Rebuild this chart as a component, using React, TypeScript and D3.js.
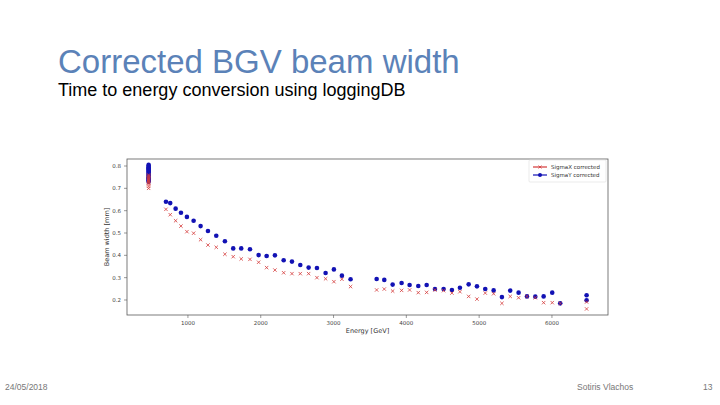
import React from "react";
import * as d3 from "d3";

// Injection plateau (450 GeV) measurements
const injEnergy = 460;
const injSigmaX = [0.76, 0.755, 0.75, 0.745, 0.74, 0.735, 0.73, 0.725, 0.72, 0.71, 0.7];
const injSigmaY = [0.805, 0.8, 0.795, 0.79, 0.785, 0.78, 0.775, 0.77, 0.765, 0.76, 0.755, 0.75, 0.745, 0.74, 0.735, 0.73];

// Ramp measurements
const energy = [
  698, 757, 831, 904, 986, 1078, 1174, 1275, 1389, 1508, 1622, 1732, 1852, 1971, 2081,
  2195, 2315, 2429, 2543, 2658, 2772, 2891, 3005, 3115, 3234, 3592, 3697, 3812, 3935,
  4045, 4164, 4279, 4393, 4512, 4626, 4736, 4856, 4970, 5084, 5199, 5313, 5427, 5542,
  5657, 5771, 5886, 6004, 6114, 6476, 6476,
];
const sigmaX = [
  0.606, 0.582, 0.555, 0.531, 0.506, 0.499, 0.47, 0.446, 0.436, 0.405, 0.394, 0.384, 0.382,
  0.369, 0.345, 0.334, 0.322, 0.318, 0.318, 0.318, 0.3, 0.295, 0.282, 0.293, 0.26, 0.245,
  0.249, 0.24, 0.243, 0.245, 0.233, 0.234, 0.245, 0.242, 0.231, 0.237, 0.216, 0.204, 0.231,
  0.228, 0.185, 0.216, 0.21, 0.216, 0.21, 0.188, 0.188, 0.185, 0.191, 0.16,
];
const sigmaY = [
  0.64, 0.634, 0.609, 0.591, 0.572, 0.555, 0.531, 0.509, 0.488, 0.463, 0.431, 0.431, 0.427,
  0.401, 0.397, 0.4, 0.378, 0.372, 0.357, 0.345, 0.343, 0.321, 0.337, 0.309, 0.293, 0.294,
  0.29, 0.269, 0.276, 0.267, 0.263, 0.267, 0.249, 0.249, 0.245, 0.255, 0.27, 0.261, 0.249,
  0.243, 0.213, 0.242, 0.233, 0.216, 0.215, 0.216, 0.233, 0.185, 0.221, 0.199,
];

const xTicks = [1000, 2000, 3000, 4000, 5000, 6000];
const yTicks = [0.2, 0.3, 0.4, 0.5, 0.6, 0.7, 0.8];

const seriesNames = ["SigmaX corrected", "SigmaY corrected"];

const RED = "#d43a3a";
const BLUE = "#1212b4";

const plot = { left: 127, right: 608, top: 159, bottom: 315 };

const App: React.FC = () => {
  const x = d3.scaleLinear().domain([163, 6770]).range([plot.left, plot.right]);
  const y = d3.scaleLinear().domain([0.1328, 0.8314]).range([plot.bottom, plot.top]);

  const pointsX = [
    ...injSigmaX.map((v) => [injEnergy, v]),
    ...energy.map((e, i) => [e, sigmaX[i]]),
  ];
  const pointsY = [
    ...injSigmaY.map((v) => [injEnergy, v]),
    ...energy.map((e, i) => [e, sigmaY[i]]),
  ];

  const cross = (cx: number, cy: number, s: number) =>
    `M${cx - s},${cy - s}L${cx + s},${cy + s}M${cx - s},${cy + s}L${cx + s},${cy - s}`;

  const tickFont = { fontFamily: "DejaVu Sans, sans-serif", fontSize: 5.5, fill: "#444" };

  return (
    <svg
      width={720}
      height={405}
      style={{ position: "absolute", left: 0, top: 0, background: "#fff" }}
    >
      {/* slide heading */}
      <text x={58} y={73} fontFamily="Liberation Sans, Arial, sans-serif" fontSize={33} fill="#5b82b8">
        Corrected BGV beam width
      </text>
      <text x={58} y={96} fontFamily="Liberation Sans, Arial, sans-serif" fontSize={18} fill="#000">
        Time to energy conversion using loggingDB
      </text>

      {/* axes frame */}
      <rect
        x={plot.left}
        y={plot.top}
        width={plot.right - plot.left}
        height={plot.bottom - plot.top}
        fill="none"
        stroke="#5a5a5a"
        strokeWidth={0.8}
      />

      {/* y ticks */}
      {yTicks.map((t) => (
        <g key={t} transform={`translate(${plot.left},${y(t)})`}>
          <line x1={-3} x2={0} stroke="#555" strokeWidth={0.6} />
          <text x={-6} dy="0.35em" textAnchor="end" {...tickFont}>
            {d3.format(".1f")(t)}
          </text>
        </g>
      ))}

      {/* x ticks */}
      {xTicks.map((t) => (
        <g key={t} transform={`translate(${x(t)},${plot.bottom})`}>
          <line y1={0} y2={3} stroke="#555" strokeWidth={0.6} />
          <text y={9.5} textAnchor="middle" {...tickFont}>
            {t}
          </text>
        </g>
      ))}

      <text
        x={(plot.left + plot.right) / 2}
        y={333}
        textAnchor="middle"
        fontFamily="DejaVu Sans, sans-serif"
        fontSize={6.5}
        fill="#333"
      >
        Energy [GeV]
      </text>
      <text
        transform={`translate(109,${(plot.top + plot.bottom) / 2}) rotate(-90)`}
        textAnchor="middle"
        fontFamily="DejaVu Sans, sans-serif"
        fontSize={6.5}
        fill="#333"
      >
        Beam width [mm]
      </text>

      {/* SigmaY: filled circles */}
      {pointsY.map(([e, v], i) => (
        <circle key={`y${i}`} cx={x(e)} cy={y(v)} r={2.3} fill={BLUE} />
      ))}

      {/* SigmaX: crosses */}
      {pointsX.map(([e, v], i) => (
        <path key={`x${i}`} d={cross(x(e), y(v), 1.7)} stroke={RED} strokeWidth={0.8} fill="none" />
      ))}

      {/* legend */}
      <g transform="translate(529,160)">
        <rect x={0} y={0} width={77} height={22} fill="#fff" stroke="#ddd" strokeWidth={0.6} rx={1} />
        {seriesNames.map((name, i) => {
          const ly = 7 + i * 8;
          return (
            <g key={name}>
              <line x1={4} x2={18} y1={ly} y2={ly} stroke={i === 0 ? RED : BLUE} strokeWidth={1.2} />
              {i === 0 ? (
                <path d={cross(11, ly, 1.5)} stroke={RED} strokeWidth={0.8} fill="none" />
              ) : (
                <circle cx={11} cy={ly} r={2} fill={BLUE} />
              )}
              <text x={22} y={ly} dy="0.35em" fontFamily="DejaVu Sans, sans-serif" fontSize={5.5} fill="#333">
                {name}
              </text>
            </g>
          );
        })}
      </g>

      {/* footer */}
      <text x={5} y={390} fontFamily="Liberation Sans, Arial, sans-serif" fontSize={8.5} fill="#777">
        24/05/2018
      </text>
      <text x={577} y={390} fontFamily="Liberation Sans, Arial, sans-serif" fontSize={8.5} fill="#777">
        Sotiris Vlachos
      </text>
      <text x={703} y={390} fontFamily="Liberation Sans, Arial, sans-serif" fontSize={8.5} fill="#777">
        13
      </text>
    </svg>
  );
};

export default App;
